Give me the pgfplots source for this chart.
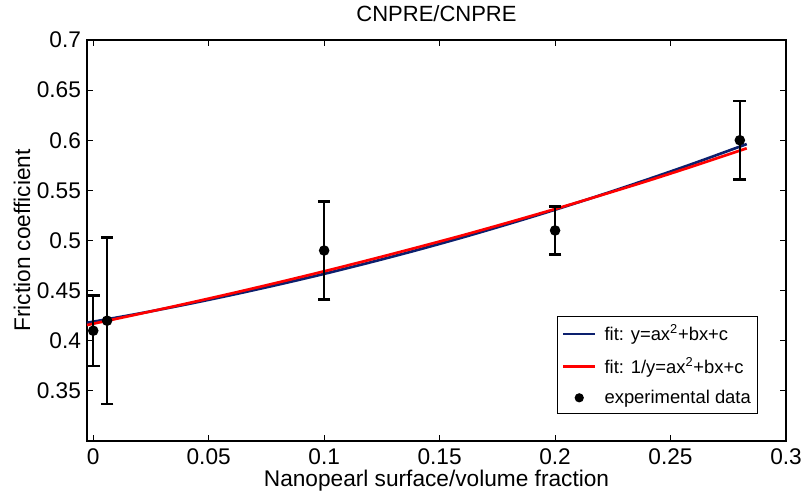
\documentclass[border=0pt]{standalone}
\usepackage{pgfplots}
\pgfplotsset{compat=1.18}
\usepackage{fontspec}
\setmainfont{Liberation Sans}
\definecolor{fitblue}{RGB}{12,32,110}
\definecolor{fitred}{RGB}{255,0,0}
\pgfplotsset{
  lineleg/.style={legend image code/.code={\draw[##1] (0pt,0pt) -- (24pt,0pt);}},
  dotleg/.style={legend image code/.code={\fill[black] (12pt,0pt) circle (2.5pt);}},
}
\begin{document}
\begin{tikzpicture}
\begin{axis}[
  scale only axis,
  width=524.25pt, height=300.75pt,
  xmin=-0.0027, xmax=0.3, ymin=0.3, ymax=0.7,
  xtick={0,0.05,0.1,0.15,0.2,0.25,0.3},
  ytick={0.35,0.4,0.45,0.5,0.55,0.6,0.65,0.7},
  scaled ticks=false,
  /pgf/number format/.cd, fixed, precision=2, assume math mode=true,
  /pgfplots/.cd,
  tick align=inside,
  major tick length=4.5pt,
  tick style={black, line width=0.6pt},
  axis line style={black, line width=1pt},
  ticklabel style={font=\fontsize{17}{20}\selectfont},
  xticklabel style={yshift=-2pt},
  yticklabel style={xshift=-1pt},
  title={CNPRE/CNPRE},
  title style={font=\fontsize{16.5}{19}\selectfont, at={(axis description cs:0.5,1.047)}, anchor=center},
  xlabel={Nanopearl surface/volume fraction},
  xlabel style={font=\fontsize{17}{20}\selectfont, at={(axis description cs:0.5,-0.1)}, anchor=center},
  ylabel={Friction coefficient},
  ylabel style={font=\fontsize{17}{20}\selectfont, at={(axis description cs:-0.093,0.5)}, anchor=center, rotate=0},
  legend style={at={(axis description cs:0.96,0.0673)}, anchor=south east,
    draw=black, line width=0.8pt, font=\fontsize{13.8}{16}\selectfont,
    inner xsep=3pt, inner ysep=4pt, row sep=7pt},
  legend cell align=left,
]
\addplot[color=fitblue, line width=2pt, smooth, lineleg] coordinates {
(-0.0027,0.4179) (0,0.4190) (0.02,0.4272) (0.04,0.4361) (0.06,0.4457) (0.08,0.4559)
(0.1,0.4667) (0.12,0.4782) (0.14,0.4903) (0.16,0.5031) (0.18,0.5166) (0.2,0.5307)
(0.22,0.5455) (0.24,0.5609) (0.26,0.5769) (0.283,0.5962)};
\addlegendentry{\hspace{4pt}fit: y=ax\textsuperscript{2}+bx+c}
\addplot[color=fitred, line width=2pt, smooth, lineleg] coordinates {
(-0.0027,0.4156) (0,0.4170) (0.02,0.4268) (0.04,0.4369) (0.06,0.4473) (0.08,0.4581)
(0.1,0.4693) (0.12,0.4809) (0.14,0.4929) (0.16,0.5052) (0.18,0.5181) (0.2,0.5314)
(0.22,0.5452) (0.24,0.5594) (0.26,0.5743) (0.283,0.5920)};
\addlegendentry{\hspace{4pt}fit: 1/y=ax\textsuperscript{2}+bx+c}
\addplot[black, only marks, mark=*, mark size=3pt, line width=1.8pt, dotleg,
  error bars/.cd, y dir=both, y explicit,
  error bar style={line width=1.8pt, black},
  error mark options={rotate=90, mark size=4.75pt, line width=1.8pt, black}] coordinates {
(0,0.41) +- (0,0.035)
(0.006,0.42) +- (0,0.083)
(0.1,0.49) +- (0,0.049)
(0.2,0.51) +- (0,0.024)
(0.28,0.60) +- (0,0.039)};
\addlegendentry{\hspace{4pt}experimental data}
\end{axis}
\pgfresetboundingbox
\path[use as bounding box] ([xshift=-65.25pt,yshift=-42.75pt]current axis.south west) rectangle ([xshift=12.75pt,yshift=30pt]current axis.north east);
\end{tikzpicture}
\end{document}
